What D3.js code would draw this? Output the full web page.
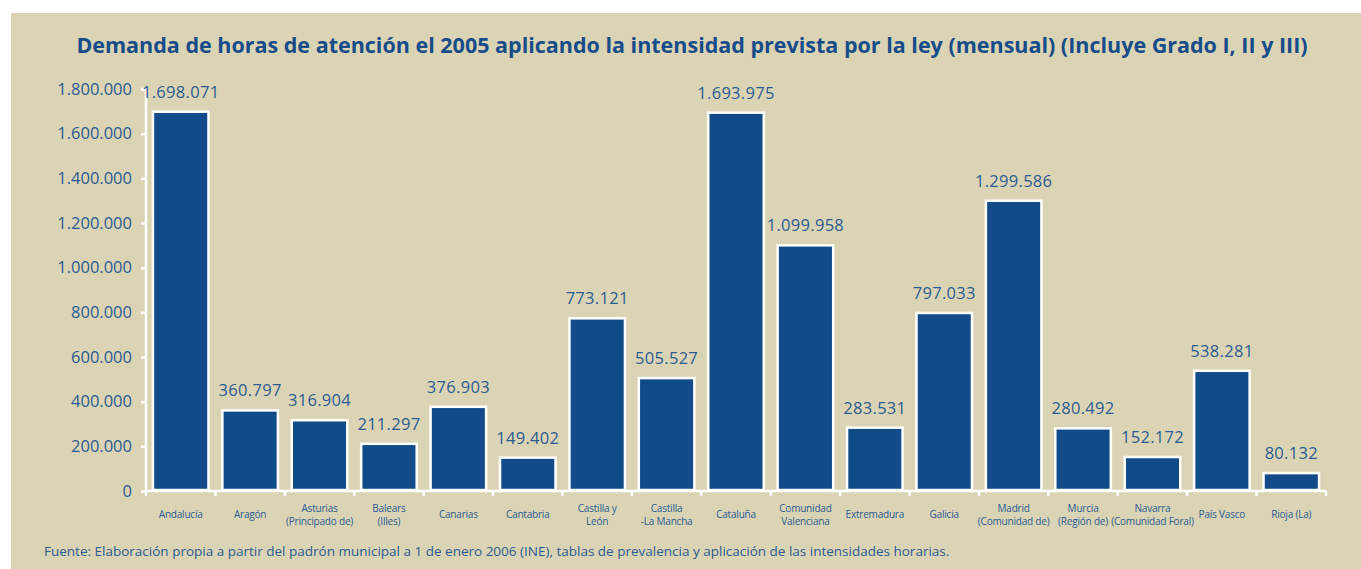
<!DOCTYPE html>
<html>
<head>
<meta charset="UTF-8">
<title>Demanda de horas de atención 2005</title>
<script src="https://d3js.org/d3.v7.min.js"></script>
<style>
  body { margin: 0; background: #fff; }
  svg { display: block; font-family: "Open Sans", "Noto Sans", sans-serif; }
</style>
</head>
<body>
<svg id="chart"></svg>
<script>
// data
const regiones = [
  ["Andalucía"], ["Aragón"], ["Asturias", "(Principado de)"], ["Balears", "(Illes)"],
  ["Canarias"], ["Cantabria"], ["Castilla y", "León"], ["Castilla", "-La Mancha"],
  ["Cataluña"], ["Comunidad", "Valenciana"], ["Extremadura"], ["Galicia"],
  ["Madrid", "(Comunidad de)"], ["Murcia", "(Región de)"], ["Navarra", "(Comunidad Foral)"],
  ["País Vasco"], ["Rioja (La)"]
];
const horas = [1698071, 360797, 316904, 211297, 376903, 149402, 773121, 505527,
  1693975, 1099958, 283531, 797033, 1299586, 280492, 152172, 538281, 80132];
const yTicks = [0, 200000, 400000, 600000, 800000, 1000000, 1200000, 1400000, 1600000, 1800000];

const titulo = "Demanda de horas de atención el 2005 aplicando la intensidad prevista por la ley (mensual) (Incluye Grado I, II y III)";
const fuente = "Fuente: Elaboración propia a partir del padrón municipal a 1 de enero 2006 (INE), tablas de prevalencia y aplicación de las intensidades horarias.";

const width = 1361, height = 569;
const textColor = "#2a5b95", titleColor = "#174c8b", barColor = "#124b8a";

const svg = d3.select("#chart").attr("width", width).attr("height", height);

// beige panel
svg.append("rect").attr("x", 11).attr("y", 13).attr("width", width - 11).attr("height", height - 13)
  .attr("fill", "#dbd4b4");

svg.append("text").attr("x", 692).attr("y", 53).attr("text-anchor", "middle")
  .attr("fill", titleColor).attr("font-size", 21.5).attr("font-weight", "bold")
  .text(titulo);

const x0 = 146, x1 = 1326, y0 = 491;
const x = d3.scaleBand().domain(d3.range(regiones.length)).range([x0, x1]).paddingInner(0.2).paddingOuter(0.1);
const y = d3.scaleLinear().domain([0, 1800000]).range([y0, 89]);

const fmt = n => d3.format(",")(n).replace(/,/g, ".");

// y axis
const yAxis = svg.append("g").attr("transform", `translate(${x0},0)`)
  .call(d3.axisLeft(y).tickValues(yTicks).tickSize(5).tickPadding(9).tickFormat(fmt));
yAxis.select(".domain").attr("stroke", "#fff").attr("stroke-width", 2.5).attr("d", `M-5,${y(1800000)}H0V${y0}`);
yAxis.selectAll(".tick line").attr("stroke", "#fff").attr("stroke-width", 2.5);
yAxis.selectAll(".tick text").attr("fill", textColor).attr("font-size", 16.5).attr("font-family", "Open Sans, sans-serif");

// x axis line with boundary ticks
const bounds = d3.range(regiones.length + 1).map(i => x0 + i * (x1 - x0) / regiones.length);
svg.append("path").attr("fill", "none").attr("stroke", "#fff").attr("stroke-width", 2.5)
  .attr("d", `M${x0},${y0}H${x1}`);
svg.append("g").selectAll("line").data(bounds).join("line")
  .attr("x1", d => d).attr("x2", d => d).attr("y1", y0).attr("y2", y0 + 5)
  .attr("stroke", "#fff").attr("stroke-width", 2.5);

// bars
svg.append("g").selectAll("rect").data(horas).join("rect")
  .attr("x", (d, i) => x(i))
  .attr("y", d => y(d))
  .attr("width", x.bandwidth())
  .attr("height", d => y0 - 1 - y(d))
  .attr("fill", barColor).attr("stroke", "#fff").attr("stroke-width", 2.5);

// value labels
svg.append("g").selectAll("text").data(horas).join("text")
  .attr("x", (d, i) => x(i) + x.bandwidth() / 2)
  .attr("y", d => y(d) - 14)
  .attr("text-anchor", "middle").attr("fill", textColor).attr("font-size", 16.5)
  .attr("letter-spacing", 0.3)
  .text(d => fmt(d));

// category labels
const cat = svg.append("g").selectAll("text").data(regiones).join("text")
  .attr("text-anchor", "middle").attr("fill", textColor).attr("font-size", 10)
  .attr("font-family", "Open Sans, sans-serif").attr("letter-spacing", -0.2);
cat.each(function (lines, i) {
  const t = d3.select(this);
  const cx = x(i) + x.bandwidth() / 2;
  const start = lines.length === 1 ? 518 : 512;
  lines.forEach((l, k) => t.append("tspan").attr("x", cx).attr("y", start + k * 12.5).text(l));
});

svg.append("text").attr("x", 44).attr("y", 556).attr("fill", textColor).attr("font-size", 13.5)
  .text(fuente);
</script>
</body>
</html>
